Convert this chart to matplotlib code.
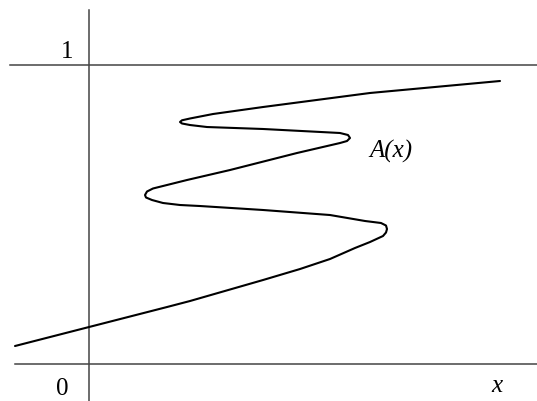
import matplotlib
matplotlib.use('Agg')
import matplotlib.pyplot as plt

curve_x = [-0.185, 0.0, 0.195, 0.2525, 0.435, 0.5275, 0.6025, 0.665, 0.7025, 0.735,
           0.7425, 0.745, 0.7425, 0.73, 0.69, 0.6025, 0.435, 0.2775, 0.2275, 0.185,
           0.1575, 0.1425, 0.14, 0.145, 0.16, 0.245, 0.3525, 0.52, 0.6275, 0.645,
           0.6525, 0.6475, 0.6275, 0.435, 0.295, 0.2525, 0.2325, 0.2275, 0.2325, 0.2525,
           0.31, 0.435, 0.7025, 1.0275]
curve_y = [0.0602, 0.1237, 0.1906, 0.2107, 0.2809, 0.3177, 0.3512, 0.3880, 0.4080, 0.4281,
           0.4398, 0.4515, 0.4632, 0.4716, 0.4783, 0.4983, 0.5151, 0.5284, 0.5318, 0.5385,
           0.5485, 0.5569, 0.5652, 0.5769, 0.5870, 0.6154, 0.6488, 0.7057, 0.7391, 0.7458,
           0.7559, 0.7659, 0.7726, 0.7860, 0.7926, 0.7993, 0.8044, 0.8094, 0.8151, 0.8211,
           0.8361, 0.8595, 0.9064, 0.9465]

levels = [0, 1]
level_labels = ['0', '1']

fig = plt.figure(figsize=(5.37, 4.01), dpi=100)
ax = fig.add_axes([0, 0, 1, 1])
ax.set_xlim(-0.2225, 1.12)
ax.set_ylim(-0.1237, 1.2174)
ax.axis('off')

axis_color = '#444444'
ax.plot([0, 0], [-0.2, 1.184], color=axis_color, lw=1.1)
ax.plot([-0.185, 1.2], [levels[0], levels[0]], color=axis_color, lw=1.1)
ax.plot([-0.1975, 1.2], [levels[1], levels[1]], color=axis_color, lw=1.1)

ax.plot(curve_x, curve_y, color='black', lw=1.5,
        solid_joinstyle='round', solid_capstyle='round')

serif = 'Liberation Serif'
ax.text(-0.055, 1.043, level_labels[1], fontsize=18, family=serif, ha='center', va='center')
ax.text(-0.0675, -0.085, level_labels[0], fontsize=18, family=serif, ha='center', va='center')
ax.text(1.02, -0.075, 'x', fontsize=18, family=serif, style='italic', ha='center', va='center')
ax.text(0.755, 0.712, 'A(x)', fontsize=18, family=serif, style='italic', ha='center', va='center')

fig.savefig('out.png', dpi=100)
